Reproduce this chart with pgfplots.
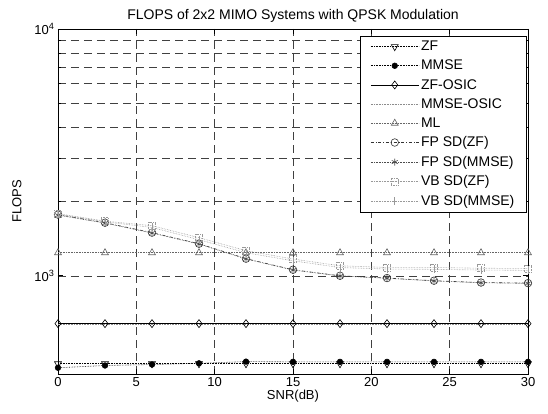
\documentclass[border=0pt]{standalone}
\usepackage{pgfplots}
\pgfplotsset{compat=1.18}
\usepackage{fontspec}
\setmainfont{Liberation Sans}
\pgfplotstableread{
x ZF MMSE ZFOSIC MMSEOSIC ML FPZF FPMMSE VBZF VBMMSE
0 440 424 640 636 1240 1770 1760 1785 1775
3 440 433 640 636 1240 1641 1635 1665 1655
6 440 437 640 636 1240 1496 1490 1596 1570
9 440 442 640 636 1240 1349 1345 1427 1400
12 440 449 640 636 1240 1173 1170 1264 1240
15 440 448 640 636 1240 1058 1055 1169 1150
18 440 448 640 636 1240 1000 998 1098 1080
21 440 448 640 636 1240 979 977 1081 1065
24 440 448 640 636 1240 955 953 1081 1062
27 440 448 640 636 1240 939 937 1073 1055
30 440 448 640 636 1240 934 932 1071 1052
}\data
\begin{document}
\begin{tikzpicture}[x=1pt,y=1pt]
\path[use as bounding box] (-58,-39) rectangle (490,374);
\begin{axis}[
  at={(0pt,0pt)}, anchor=south west,
  scale only axis, width=470pt, height=345pt,
  ymode=log, xmin=0, xmax=30, ymin=400, ymax=10000,
  xtick={0,5,...,30},
  ytick={1000,10000},
  yticklabels={10\textsuperscript{3},10\textsuperscript{4}},
  /pgf/number format/assume math mode=true,
  tick label style={font=\fontsize{13}{15}\selectfont},
  label style={font=\fontsize{13}{15}\selectfont},
  xlabel style={yshift=4pt},
  ylabel style={yshift=6pt},
  title style={font=\fontsize{14}{16}\selectfont, yshift=-3pt},
  title={FLOPS of 2x2 MIMO Systems with QPSK Modulation},
  xlabel={SNR(dB)}, ylabel={FLOPS},
  grid=both,
  major grid style={black!75, dash pattern=on 8pt off 5pt, line width=0.5pt},
  minor grid style={black!75, dash pattern=on 8pt off 5pt, line width=0.5pt},
  axis line style={line width=0.8pt},
  tick style={black, line width=0.6pt},
  major tick length=5pt, minor tick length=3pt,
  legend style={at={(0.997,0.98)}, anchor=north east, draw=black, fill=white,
    font=\fontsize{14}{16}\selectfont, row sep=3.9pt, inner ysep=3pt, inner xsep=10pt,
    cells={anchor=west}},
  legend image code/.code={\draw[mark repeat=2,mark phase=2] plot coordinates {(0pt,0pt) (24pt,0pt) (48pt,0pt)};},
  every axis plot/.append style={line width=0.6pt},
  mark options={solid},
]
\addplot[black, densely dotted, mark=triangle, mark options={solid, rotate=180}, mark size=4pt] table[x=x,y=ZF] {\data};
\addlegendentry{ZF}
\addplot[black, densely dotted, mark=*, mark options={solid}, mark size=2.8pt] table[x=x,y=MMSE] {\data};
\addlegendentry{MMSE}
\addplot[black, mark=diamond, mark options={solid}, mark size=4pt] table[x=x,y=ZFOSIC] {\data};
\addlegendentry{ZF-OSIC}
\addplot[black!45, densely dotted] table[x=x,y=MMSEOSIC] {\data};
\addlegendentry{MMSE-OSIC}
\addplot[black!60, densely dotted, mark=triangle, mark options={solid}, mark size=4pt] table[x=x,y=ML] {\data};
\addlegendentry{ML}
\addplot[black!80, dash dot, mark=o, mark options={solid}, mark size=3.8pt] table[x=x,y=FPZF] {\data};
\addlegendentry{FP SD(ZF)}
\addplot[black!70, densely dotted, mark=asterisk, mark options={solid}, mark size=3.5pt] table[x=x,y=FPMMSE] {\data};
\addlegendentry{FP SD(MMSE)}
\addplot[black!40, densely dotted, mark=square, mark options={solid, densely dotted}, mark size=3.5pt] table[x=x,y=VBZF] {\data};
\addlegendentry{VB SD(ZF)}
\addplot[black!40, densely dotted, mark=|, mark options={solid}, mark size=4pt] table[x=x,y=VBMMSE] {\data};
\addlegendentry{VB SD(MMSE)}
\end{axis}
\end{tikzpicture}
\end{document}
